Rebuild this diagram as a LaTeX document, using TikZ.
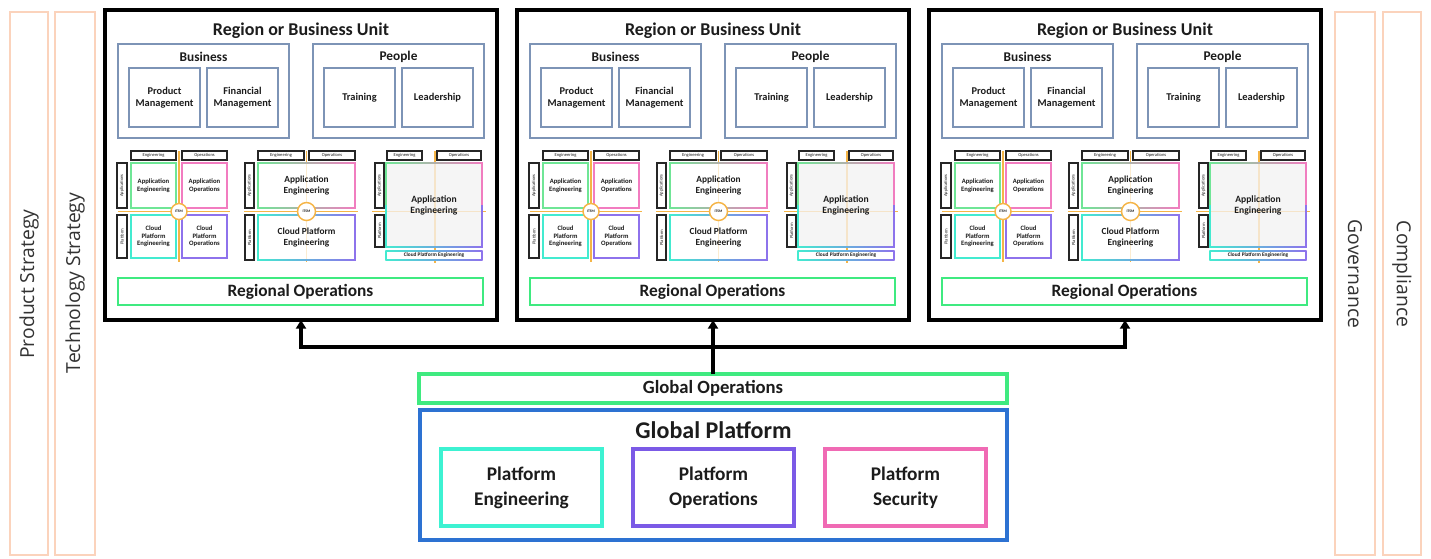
\documentclass[tikz,border=0pt]{standalone}
\usepackage{fontspec}
\setmainfont{Carlito}
\newfontfamily\stratfont{Open Sans}
\usetikzlibrary{arrows.meta}
\definecolor{peach}{HTML}{FBD3BC}
\definecolor{slate}{HTML}{7D94B6}
\definecolor{rgreen}{HTML}{3FEA80}
\definecolor{agreen}{HTML}{6FE696}
\definecolor{apink}{HTML}{F27CC0}
\definecolor{cteal}{HTML}{43EBD0}
\definecolor{cpurple}{HTML}{8E72EC}
\definecolor{itsm}{HTML}{F5B547}
\definecolor{gblue}{HTML}{2D72D2}
\definecolor{pteal}{HTML}{3DF2D2}
\definecolor{ppurple}{HTML}{7B5AE6}
\definecolor{ppink}{HTML}{F06AB4}
\definecolor{txt}{HTML}{1C1C1C}
\definecolor{stxt}{HTML}{333333}
\definecolor{bigfill}{HTML}{F5F5F5}
% box from corner (x1,y1) to (x2,y2): #1 style, #2 name, #3..#6 corners, #7 text
\newcommand\bx[7][]{\node[#1,minimum width={(#5-#3)*0.75pt},minimum height={(#6-#4)*0.75pt}] (#2) at ({(#3+#5)/2},{(#4+#6)/2}) {#7};}
\newcommand\fs[2][1.15]{\pgfmathsetmacro\myfsb{#2*#1}\fontsize{#2}{\myfsb}\selectfont}
\begin{document}
\begin{tikzpicture}[x=0.75pt,y=-0.75pt,
  every node/.style={inner sep=0pt,outer sep=0pt,align=center,text=txt},
  regionbox/.style={draw=black,line width=2.3pt,fill=white},
  groupbox/.style={draw=slate,line width=1.7pt,fill=white},
  hdr/.style={draw=black!85,line width=0.9pt,fill=white,font=\fs{3.4}},
  sidebox/.style={draw=black!85,line width=0.9pt,fill=white},
  sidetxt/.style={rotate=90,font=\fs{3.4}},
  cbox/.style={draw=#1,line width=1.1pt,fill=white,font=\bfseries\fs{5}},
  itsmline/.style={draw=itsm,line width=1.1pt},
  faint/.style={draw=itsm,line width=0.8pt,draw opacity=0.25},
  itsmc/.style={circle,draw=itsm,line width=1.1pt,fill=white,font=\bfseries\fs{2.8}},
  opsbox/.style={draw=rgreen,line width=2pt,fill=white,font=\bfseries\fs{13}},
  gplat/.style={draw=gblue,line width=2.3pt,fill=white},
  pbox/.style={draw=#1,line width=2.3pt,fill=white,font=\bfseries\fs[1.28]{14.5}},
  strat/.style={draw=peach,line width=2.2pt,fill=white},
  strattxt/.style={font=\stratfont\fs{14.5},text=stxt},
  conn/.style={draw=black,line width=2.3pt,line join=miter,-{Triangle[length=6.5pt,width=7.5pt]}}
]
\useasboundingbox (0,0) rectangle (1431,558);
\fill[white] (0,0) rectangle (1431,558);

% strategy bars
\bx[strat]{psb}{10}{12}{48}{555}{}
\node[strattxt,rotate=90] (pst) at (29,284) {Product Strategy};
\bx[strat]{tsb}{55}{12}{95}{555}{}
\node[strattxt,rotate=90] (tst) at (75,283) {Technology Strategy};
\bx[strat]{gvb}{1335}{12}{1375}{555}{}
\node[strattxt,rotate=-90] (gvt) at (1355,274) {Governance};
\bx[strat]{cpb}{1383}{12}{1421}{555}{}
\node[strattxt,rotate=-90] (cpt) at (1402,274) {Compliance};

\foreach \i/\ox in {1/0,2/412,3/824} {
\begin{scope}[xshift=\ox*0.75pt]
  \bx[regionbox]{r\i}{105}{10}{497}{320}{}
  \node[font=\bfseries\fs{13.5}] (rt\i) at (301,31) {Region or Business Unit};
  % business / people
  \bx[groupbox]{biz\i}{118}{44}{289}{138}{}
  \node[font=\bfseries\fs{10}] (bizt\i) at (203.5,57) {Business};
  \bx[groupbox,font=\bfseries\fs{7.8}]{pm\i}{129}{68}{200}{127}{Product\\Management}
  \bx[groupbox,font=\bfseries\fs{7.8}]{fm\i}{207}{68}{278}{127}{Financial\\Management}
  \bx[groupbox]{ppl\i}{313}{44}{484}{138}{}
  \node[font=\bfseries\fs{10}] (pplt\i) at (398.5,57) {People};
  \bx[groupbox,font=\bfseries\fs{7.8}]{tr\i}{324}{68}{395}{127}{Training}
  \bx[groupbox,font=\bfseries\fs{7.8}]{ld\i}{402}{68}{473}{127}{Leadership}
  % ---- grid 1
  \draw[itsmline] (179,151) -- (179,262);
  \draw[itsmline] (118,211.5) -- (230,211.5);
  \bx[hdr]{ea\i}{131}{151}{176}{160}{Engineering}
  \bx[hdr]{oa\i}{182}{151}{227}{160}{Operations}
  \bx[sidebox]{sa\i}{117}{163}{127}{208}{}
  \node[sidetxt] (sat\i) at (sa\i) {Applications};
  \bx[sidebox]{spa\i}{117}{215}{127}{258}{}
  \node[sidetxt] (spat\i) at (spa\i) {Platform};
  \bx[cbox=agreen]{aea\i}{131}{163}{176}{208}{Application\\Engineering}
  \bx[cbox=apink]{aoa\i}{182}{163}{227}{208}{Application\\Operations}
  \bx[cbox=cteal]{cea\i}{131}{215}{176}{258}{Cloud\\Platform\\Engineering}
  \bx[cbox=cpurple]{coa\i}{182}{215}{227}{258}{Cloud\\Platform\\Operations}
  \node[itsmc,minimum size=12pt] (ita\i) at (179,211.5) {ITSM};
  % ---- grid 2
  \draw[itsmline] (306.5,151) -- (306.5,262);
  \draw[itsmline] (244,211.5) -- (358,211.5);
  \bx[hdr]{eb\i}{258}{151}{304}{160}{Engineering}
  \bx[hdr]{ob\i}{309}{151}{355}{160}{Operations}
  \bx[sidebox]{sb\i}{245}{163}{254}{208}{}
  \node[sidetxt] (sbt\i) at (sb\i) {Applications};
  \bx[sidebox]{spb\i}{245}{215}{254}{260}{}
  \node[sidetxt] (spbt\i) at (spb\i) {Platform};
  \shade[left color=agreen,right color=apink] (257.2,162.2) rectangle (355.8,208.8);
  \fill[white] (258.8,163.8) rectangle (354.2,207.2);
  \draw[faint] (306.5,163.8) -- (306.5,207.2);
  \bx[font=\bfseries\fs{7}]{aeb\i}{258}{163}{355}{208}{Application\\Engineering}
  \shade[left color=cteal,right color=cpurple] (257.2,214.2) rectangle (355.8,260.8);
  \fill[white] (258.8,215.8) rectangle (354.2,259.2);
  \draw[faint] (306.5,215.8) -- (306.5,259.2);
  \bx[font=\bfseries\fs{7}]{ceb\i}{258}{215}{355}{260}{Cloud Platform\\Engineering}
  \node[itsmc,minimum size=13.5pt] (itb\i) at (306.5,211.5) {ITSM};
  % ---- grid 3
  \draw[itsmline] (435,151) -- (435,263);
  \draw[itsmline] (372,211.5) -- (486,211.5);
  \bx[hdr]{ec\i}{387}{151}{422}{160}{Engineering}
  \bx[hdr]{oc\i}{437}{151}{481}{160}{Operations}
  \bx[sidebox]{sc\i}{375}{163}{384}{208}{}
  \node[sidetxt] (sct\i) at (sc\i) {Applications};
  \bx[sidebox]{spc\i}{375}{215}{384}{247}{}
  \node[sidetxt] (spct\i) at (spc\i) {Platform};
  \shade[left color=agreen,right color=apink] (385.2,162.2) rectangle (482.8,205.5);
  \shade[left color=cteal,right color=cpurple] (385.2,205) rectangle (482.8,247.8);
  \fill[bigfill] (386.8,163.8) rectangle (481.2,246.2);
  \draw[faint] (435,163.8) -- (435,246.2);
  \draw[faint] (386.8,211.5) -- (481.2,211.5);
  \bx[font=\bfseries\fs{7.2}]{aec\i}{386}{163}{482}{247}{Application\\Engineering}
  \shade[left color=cteal,right color=cpurple] (385.4,250.4) rectangle (482.6,260.6);
  \fill[white] (386.6,251.6) rectangle (481.4,259.4);
  \bx[font=\bfseries\fs{4}]{cec\i}{386}{251}{482}{260}{Cloud Platform Engineering}
  % regional operations
  \bx[opsbox]{rop\i}{118}{278}{483}{305}{Regional Operations}
\end{scope}
}

% global
\bx[opsbox,line width=2.3pt,font=\bfseries\fs{14}]{gops}{419}{374}{1007}{403}{Global Operations}
\bx[gplat]{gp}{420}{410}{1007}{540}{}
\node[font=\bfseries\fs{18}] (gpt) at (713.5,430) {Global Platform};
\bx[pbox=pteal]{pe}{441}{449}{602}{526}{Platform\\Engineering}
\bx[pbox=ppurple]{po}{633}{449}{794}{526}{Platform\\Operations}
\bx[pbox=ppink]{psec}{825}{449}{986}{526}{Platform\\Security}

% connectors
\coordinate (j) at (713.5,347);
\draw[conn] (gops.north) -- (gops.north |- r2.south);
\draw[conn] (gops.north |- j) -| (r1.south);
\draw[conn] (gops.north |- j) -| (r3.south);
\end{tikzpicture}
\end{document}
